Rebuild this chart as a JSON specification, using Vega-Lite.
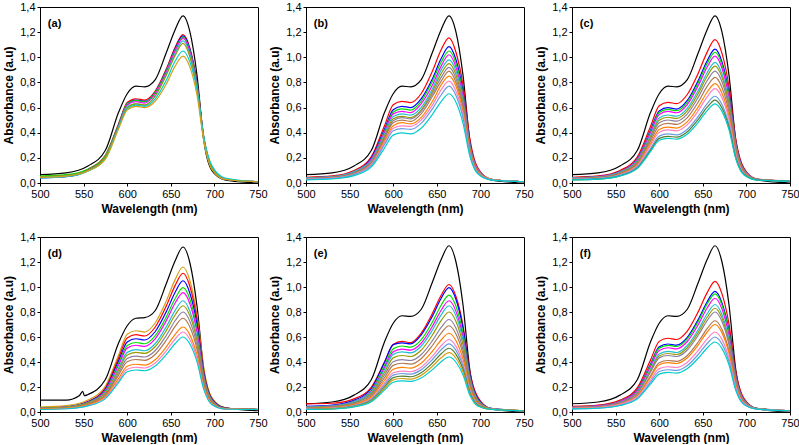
{
"$schema":"https://vega.github.io/schema/vega-lite/v6.json",
"padding":{"left":2,"top":0,"right":0,"bottom":0},
"data":{"values":[
{"p":"a","lab":"(a)"},{"p":"b","lab":"(b)"},{"p":"c","lab":"(c)"},{"p":"d","lab":"(d)"},{"p":"e","lab":"(e)"},{"p":"f","lab":"(f)"},
{"p":"a","c":0,"x":500,"y":0.066},{"p":"a","c":0,"x":530,"y":0.08},{"p":"a","c":0,"x":555,"y":0.135},{"p":"a","c":0,"x":575,"y":0.26},{"p":"a","c":0,"x":590,"y":0.56},{"p":"a","c":0,"x":600,"y":0.71},{"p":"a","c":0,"x":610,"y":0.77},{"p":"a","c":0,"x":620,"y":0.765},{"p":"a","c":0,"x":632,"y":0.82},{"p":"a","c":0,"x":645,"y":1.04},{"p":"a","c":0,"x":655,"y":1.22},{"p":"a","c":0,"x":664,"y":1.33},{"p":"a","c":0,"x":672,"y":1.2},{"p":"a","c":0,"x":680,"y":0.86},{"p":"a","c":0,"x":688,"y":0.33},{"p":"a","c":0,"x":697,"y":0.1},{"p":"a","c":0,"x":712,"y":0.025},{"p":"a","c":0,"x":750,"y":0},
{"p":"a","c":1,"x":500,"y":0.05},{"p":"a","c":1,"x":530,"y":0.06},{"p":"a","c":1,"x":555,"y":0.11},{"p":"a","c":1,"x":575,"y":0.22},{"p":"a","c":1,"x":590,"y":0.47},{"p":"a","c":1,"x":600,"y":0.64},{"p":"a","c":1,"x":610,"y":0.67},{"p":"a","c":1,"x":620,"y":0.66},{"p":"a","c":1,"x":632,"y":0.73},{"p":"a","c":1,"x":645,"y":0.91},{"p":"a","c":1,"x":655,"y":1.08},{"p":"a","c":1,"x":664,"y":1.18},{"p":"a","c":1,"x":672,"y":1.07},{"p":"a","c":1,"x":680,"y":0.8},{"p":"a","c":1,"x":688,"y":0.36},{"p":"a","c":1,"x":697,"y":0.13},{"p":"a","c":1,"x":712,"y":0.03},{"p":"a","c":1,"x":750,"y":0.01},
{"p":"a","c":2,"x":500,"y":0.04},{"p":"a","c":2,"x":530,"y":0.05},{"p":"a","c":2,"x":555,"y":0.1},{"p":"a","c":2,"x":575,"y":0.21},{"p":"a","c":2,"x":590,"y":0.46},{"p":"a","c":2,"x":600,"y":0.63},{"p":"a","c":2,"x":610,"y":0.66},{"p":"a","c":2,"x":620,"y":0.65},{"p":"a","c":2,"x":632,"y":0.72},{"p":"a","c":2,"x":645,"y":0.9},{"p":"a","c":2,"x":655,"y":1.07},{"p":"a","c":2,"x":664,"y":1.17},{"p":"a","c":2,"x":672,"y":1.06},{"p":"a","c":2,"x":680,"y":0.79},{"p":"a","c":2,"x":688,"y":0.35},{"p":"a","c":2,"x":697,"y":0.12},{"p":"a","c":2,"x":712,"y":0.03},{"p":"a","c":2,"x":750,"y":0.01},
{"p":"a","c":3,"x":500,"y":0.055},{"p":"a","c":3,"x":530,"y":0.066},{"p":"a","c":3,"x":555,"y":0.11},{"p":"a","c":3,"x":575,"y":0.22},{"p":"a","c":3,"x":590,"y":0.46},{"p":"a","c":3,"x":600,"y":0.63},{"p":"a","c":3,"x":610,"y":0.657},{"p":"a","c":3,"x":620,"y":0.646},{"p":"a","c":3,"x":632,"y":0.718},{"p":"a","c":3,"x":645,"y":0.895},{"p":"a","c":3,"x":655,"y":1.061},{"p":"a","c":3,"x":664,"y":1.16},{"p":"a","c":3,"x":672,"y":1.05},{"p":"a","c":3,"x":680,"y":0.784},{"p":"a","c":3,"x":688,"y":0.353},{"p":"a","c":3,"x":697,"y":0.127},{"p":"a","c":3,"x":712,"y":0.03},{"p":"a","c":3,"x":750,"y":0.01},
{"p":"a","c":4,"x":500,"y":0.045},{"p":"a","c":4,"x":530,"y":0.056},{"p":"a","c":4,"x":555,"y":0.1},{"p":"a","c":4,"x":575,"y":0.21},{"p":"a","c":4,"x":590,"y":0.45},{"p":"a","c":4,"x":600,"y":0.62},{"p":"a","c":4,"x":610,"y":0.647},{"p":"a","c":4,"x":620,"y":0.636},{"p":"a","c":4,"x":632,"y":0.708},{"p":"a","c":4,"x":645,"y":0.885},{"p":"a","c":4,"x":655,"y":1.051},{"p":"a","c":4,"x":664,"y":1.15},{"p":"a","c":4,"x":672,"y":1.04},{"p":"a","c":4,"x":680,"y":0.774},{"p":"a","c":4,"x":688,"y":0.343},{"p":"a","c":4,"x":697,"y":0.12},{"p":"a","c":4,"x":712,"y":0.03},{"p":"a","c":4,"x":750,"y":0.01},
{"p":"a","c":5,"x":500,"y":0.04},{"p":"a","c":5,"x":530,"y":0.05},{"p":"a","c":5,"x":555,"y":0.095},{"p":"a","c":5,"x":575,"y":0.2},{"p":"a","c":5,"x":590,"y":0.44},{"p":"a","c":5,"x":600,"y":0.61},{"p":"a","c":5,"x":610,"y":0.63},{"p":"a","c":5,"x":620,"y":0.62},{"p":"a","c":5,"x":632,"y":0.69},{"p":"a","c":5,"x":645,"y":0.87},{"p":"a","c":5,"x":655,"y":1.03},{"p":"a","c":5,"x":664,"y":1.13},{"p":"a","c":5,"x":672,"y":1.02},{"p":"a","c":5,"x":680,"y":0.76},{"p":"a","c":5,"x":688,"y":0.33},{"p":"a","c":5,"x":697,"y":0.115},{"p":"a","c":5,"x":712,"y":0.03},{"p":"a","c":5,"x":750,"y":0.01},
{"p":"a","c":6,"x":500,"y":0.05},{"p":"a","c":6,"x":530,"y":0.06},{"p":"a","c":6,"x":555,"y":0.1},{"p":"a","c":6,"x":575,"y":0.21},{"p":"a","c":6,"x":590,"y":0.44},{"p":"a","c":6,"x":600,"y":0.6},{"p":"a","c":6,"x":610,"y":0.63},{"p":"a","c":6,"x":620,"y":0.62},{"p":"a","c":6,"x":632,"y":0.69},{"p":"a","c":6,"x":645,"y":0.86},{"p":"a","c":6,"x":655,"y":1.015},{"p":"a","c":6,"x":664,"y":1.11},{"p":"a","c":6,"x":672,"y":1.0},{"p":"a","c":6,"x":680,"y":0.75},{"p":"a","c":6,"x":688,"y":0.34},{"p":"a","c":6,"x":697,"y":0.12},{"p":"a","c":6,"x":712,"y":0.03},{"p":"a","c":6,"x":750,"y":0.01},
{"p":"a","c":14,"x":500,"y":0.045},{"p":"a","c":14,"x":530,"y":0.055},{"p":"a","c":14,"x":555,"y":0.095},{"p":"a","c":14,"x":575,"y":0.195},{"p":"a","c":14,"x":590,"y":0.44},{"p":"a","c":14,"x":600,"y":0.59},{"p":"a","c":14,"x":610,"y":0.62},{"p":"a","c":14,"x":620,"y":0.61},{"p":"a","c":14,"x":632,"y":0.67},{"p":"a","c":14,"x":645,"y":0.82},{"p":"a","c":14,"x":655,"y":0.97},{"p":"a","c":14,"x":664,"y":1.05},{"p":"a","c":14,"x":672,"y":0.96},{"p":"a","c":14,"x":680,"y":0.74},{"p":"a","c":14,"x":688,"y":0.36},{"p":"a","c":14,"x":697,"y":0.14},{"p":"a","c":14,"x":712,"y":0.04},{"p":"a","c":14,"x":750,"y":0.01},
{"p":"a","c":13,"x":500,"y":0.045},{"p":"a","c":13,"x":530,"y":0.055},{"p":"a","c":13,"x":555,"y":0.095},{"p":"a","c":13,"x":575,"y":0.19},{"p":"a","c":13,"x":590,"y":0.43},{"p":"a","c":13,"x":600,"y":0.58},{"p":"a","c":13,"x":610,"y":0.61},{"p":"a","c":13,"x":620,"y":0.6},{"p":"a","c":13,"x":632,"y":0.65},{"p":"a","c":13,"x":645,"y":0.79},{"p":"a","c":13,"x":655,"y":0.93},{"p":"a","c":13,"x":664,"y":1.01},{"p":"a","c":13,"x":672,"y":0.92},{"p":"a","c":13,"x":680,"y":0.7},{"p":"a","c":13,"x":688,"y":0.33},{"p":"a","c":13,"x":697,"y":0.11},{"p":"a","c":13,"x":712,"y":0.03},{"p":"a","c":13,"x":750,"y":0.01},
{"p":"b","c":0,"x":500,"y":0.066},{"p":"b","c":0,"x":530,"y":0.08},{"p":"b","c":0,"x":555,"y":0.135},{"p":"b","c":0,"x":575,"y":0.26},{"p":"b","c":0,"x":590,"y":0.56},{"p":"b","c":0,"x":600,"y":0.71},{"p":"b","c":0,"x":610,"y":0.77},{"p":"b","c":0,"x":620,"y":0.765},{"p":"b","c":0,"x":632,"y":0.82},{"p":"b","c":0,"x":645,"y":1.04},{"p":"b","c":0,"x":655,"y":1.22},{"p":"b","c":0,"x":664,"y":1.33},{"p":"b","c":0,"x":672,"y":1.2},{"p":"b","c":0,"x":680,"y":0.86},{"p":"b","c":0,"x":688,"y":0.33},{"p":"b","c":0,"x":697,"y":0.1},{"p":"b","c":0,"x":712,"y":0.025},{"p":"b","c":0,"x":750,"y":0},
{"p":"b","c":1,"x":500,"y":0.045},{"p":"b","c":1,"x":530,"y":0.056},{"p":"b","c":1,"x":555,"y":0.1},{"p":"b","c":1,"x":575,"y":0.21},{"p":"b","c":1,"x":590,"y":0.456},{"p":"b","c":1,"x":600,"y":0.622},{"p":"b","c":1,"x":610,"y":0.65},{"p":"b","c":1,"x":620,"y":0.64},{"p":"b","c":1,"x":632,"y":0.71},{"p":"b","c":1,"x":645,"y":0.89},{"p":"b","c":1,"x":655,"y":1.06},{"p":"b","c":1,"x":664,"y":1.155},{"p":"b","c":1,"x":672,"y":1.04},{"p":"b","c":1,"x":680,"y":0.78},{"p":"b","c":1,"x":688,"y":0.35},{"p":"b","c":1,"x":697,"y":0.12},{"p":"b","c":1,"x":712,"y":0.03},{"p":"b","c":1,"x":750,"y":0.01},
{"p":"b","c":2,"x":500,"y":0.04},{"p":"b","c":2,"x":530,"y":0.05},{"p":"b","c":2,"x":555,"y":0.09},{"p":"b","c":2,"x":575,"y":0.2},{"p":"b","c":2,"x":590,"y":0.427},{"p":"b","c":2,"x":600,"y":0.583},{"p":"b","c":2,"x":610,"y":0.61},{"p":"b","c":2,"x":620,"y":0.6},{"p":"b","c":2,"x":632,"y":0.67},{"p":"b","c":2,"x":645,"y":0.83},{"p":"b","c":2,"x":655,"y":0.99},{"p":"b","c":2,"x":664,"y":1.085},{"p":"b","c":2,"x":672,"y":0.98},{"p":"b","c":2,"x":680,"y":0.73},{"p":"b","c":2,"x":688,"y":0.32},{"p":"b","c":2,"x":697,"y":0.11},{"p":"b","c":2,"x":712,"y":0.03},{"p":"b","c":2,"x":750,"y":0.01},
{"p":"b","c":3,"x":500,"y":0.04},{"p":"b","c":3,"x":530,"y":0.05},{"p":"b","c":3,"x":555,"y":0.09},{"p":"b","c":3,"x":575,"y":0.19},{"p":"b","c":3,"x":590,"y":0.414},{"p":"b","c":3,"x":600,"y":0.565},{"p":"b","c":3,"x":610,"y":0.59},{"p":"b","c":3,"x":620,"y":0.58},{"p":"b","c":3,"x":632,"y":0.65},{"p":"b","c":3,"x":645,"y":0.81},{"p":"b","c":3,"x":655,"y":0.96},{"p":"b","c":3,"x":664,"y":1.05},{"p":"b","c":3,"x":672,"y":0.95},{"p":"b","c":3,"x":680,"y":0.71},{"p":"b","c":3,"x":688,"y":0.31},{"p":"b","c":3,"x":697,"y":0.11},{"p":"b","c":3,"x":712,"y":0.03},{"p":"b","c":3,"x":750,"y":0.01},
{"p":"b","c":4,"x":500,"y":0.04},{"p":"b","c":4,"x":530,"y":0.05},{"p":"b","c":4,"x":555,"y":0.09},{"p":"b","c":4,"x":575,"y":0.19},{"p":"b","c":4,"x":590,"y":0.403},{"p":"b","c":4,"x":600,"y":0.55},{"p":"b","c":4,"x":610,"y":0.57},{"p":"b","c":4,"x":620,"y":0.56},{"p":"b","c":4,"x":632,"y":0.63},{"p":"b","c":4,"x":645,"y":0.78},{"p":"b","c":4,"x":655,"y":0.93},{"p":"b","c":4,"x":664,"y":1.02},{"p":"b","c":4,"x":672,"y":0.92},{"p":"b","c":4,"x":680,"y":0.69},{"p":"b","c":4,"x":688,"y":0.3},{"p":"b","c":4,"x":697,"y":0.11},{"p":"b","c":4,"x":712,"y":0.03},{"p":"b","c":4,"x":750,"y":0.01},
{"p":"b","c":5,"x":500,"y":0.04},{"p":"b","c":5,"x":530,"y":0.05},{"p":"b","c":5,"x":555,"y":0.09},{"p":"b","c":5,"x":575,"y":0.18},{"p":"b","c":5,"x":590,"y":0.388},{"p":"b","c":5,"x":600,"y":0.529},{"p":"b","c":5,"x":610,"y":0.55},{"p":"b","c":5,"x":620,"y":0.54},{"p":"b","c":5,"x":632,"y":0.6},{"p":"b","c":5,"x":645,"y":0.75},{"p":"b","c":5,"x":655,"y":0.9},{"p":"b","c":5,"x":664,"y":0.98},{"p":"b","c":5,"x":672,"y":0.89},{"p":"b","c":5,"x":680,"y":0.66},{"p":"b","c":5,"x":688,"y":0.29},{"p":"b","c":5,"x":697,"y":0.1},{"p":"b","c":5,"x":712,"y":0.03},{"p":"b","c":5,"x":750,"y":0.01},
{"p":"b","c":6,"x":500,"y":0.035},{"p":"b","c":6,"x":530,"y":0.045},{"p":"b","c":6,"x":555,"y":0.08},{"p":"b","c":6,"x":575,"y":0.17},{"p":"b","c":6,"x":590,"y":0.374},{"p":"b","c":6,"x":600,"y":0.511},{"p":"b","c":6,"x":610,"y":0.53},{"p":"b","c":6,"x":620,"y":0.52},{"p":"b","c":6,"x":632,"y":0.58},{"p":"b","c":6,"x":645,"y":0.73},{"p":"b","c":6,"x":655,"y":0.87},{"p":"b","c":6,"x":664,"y":0.95},{"p":"b","c":6,"x":672,"y":0.86},{"p":"b","c":6,"x":680,"y":0.64},{"p":"b","c":6,"x":688,"y":0.28},{"p":"b","c":6,"x":697,"y":0.1},{"p":"b","c":6,"x":712,"y":0.03},{"p":"b","c":6,"x":750,"y":0.01},
{"p":"b","c":7,"x":500,"y":0.035},{"p":"b","c":7,"x":530,"y":0.044},{"p":"b","c":7,"x":555,"y":0.08},{"p":"b","c":7,"x":575,"y":0.17},{"p":"b","c":7,"x":590,"y":0.362},{"p":"b","c":7,"x":600,"y":0.495},{"p":"b","c":7,"x":610,"y":0.52},{"p":"b","c":7,"x":620,"y":0.51},{"p":"b","c":7,"x":632,"y":0.57},{"p":"b","c":7,"x":645,"y":0.71},{"p":"b","c":7,"x":655,"y":0.84},{"p":"b","c":7,"x":664,"y":0.92},{"p":"b","c":7,"x":672,"y":0.83},{"p":"b","c":7,"x":680,"y":0.62},{"p":"b","c":7,"x":688,"y":0.27},{"p":"b","c":7,"x":697,"y":0.1},{"p":"b","c":7,"x":712,"y":0.03},{"p":"b","c":7,"x":750,"y":0.01},
{"p":"b","c":8,"x":500,"y":0.035},{"p":"b","c":8,"x":530,"y":0.044},{"p":"b","c":8,"x":555,"y":0.078},{"p":"b","c":8,"x":575,"y":0.16},{"p":"b","c":8,"x":590,"y":0.351},{"p":"b","c":8,"x":600,"y":0.48},{"p":"b","c":8,"x":610,"y":0.5},{"p":"b","c":8,"x":620,"y":0.49},{"p":"b","c":8,"x":632,"y":0.55},{"p":"b","c":8,"x":645,"y":0.69},{"p":"b","c":8,"x":655,"y":0.81},{"p":"b","c":8,"x":664,"y":0.89},{"p":"b","c":8,"x":672,"y":0.8},{"p":"b","c":8,"x":680,"y":0.6},{"p":"b","c":8,"x":688,"y":0.27},{"p":"b","c":8,"x":697,"y":0.09},{"p":"b","c":8,"x":712,"y":0.03},{"p":"b","c":8,"x":750,"y":0.01},
{"p":"b","c":9,"x":500,"y":0.03},{"p":"b","c":9,"x":530,"y":0.038},{"p":"b","c":9,"x":555,"y":0.071},{"p":"b","c":9,"x":575,"y":0.15},{"p":"b","c":9,"x":590,"y":0.333},{"p":"b","c":9,"x":600,"y":0.456},{"p":"b","c":9,"x":610,"y":0.48},{"p":"b","c":9,"x":620,"y":0.47},{"p":"b","c":9,"x":632,"y":0.52},{"p":"b","c":9,"x":645,"y":0.65},{"p":"b","c":9,"x":655,"y":0.78},{"p":"b","c":9,"x":664,"y":0.85},{"p":"b","c":9,"x":672,"y":0.77},{"p":"b","c":9,"x":680,"y":0.57},{"p":"b","c":9,"x":688,"y":0.25},{"p":"b","c":9,"x":697,"y":0.09},{"p":"b","c":9,"x":712,"y":0.03},{"p":"b","c":9,"x":750,"y":0.01},
{"p":"b","c":10,"x":500,"y":0.03},{"p":"b","c":10,"x":530,"y":0.038},{"p":"b","c":10,"x":555,"y":0.069},{"p":"b","c":10,"x":575,"y":0.147},{"p":"b","c":10,"x":590,"y":0.319},{"p":"b","c":10,"x":600,"y":0.436},{"p":"b","c":10,"x":610,"y":0.455},{"p":"b","c":10,"x":620,"y":0.45},{"p":"b","c":10,"x":632,"y":0.5},{"p":"b","c":10,"x":645,"y":0.62},{"p":"b","c":10,"x":655,"y":0.74},{"p":"b","c":10,"x":664,"y":0.81},{"p":"b","c":10,"x":672,"y":0.73},{"p":"b","c":10,"x":680,"y":0.545},{"p":"b","c":10,"x":688,"y":0.24},{"p":"b","c":10,"x":697,"y":0.08},{"p":"b","c":10,"x":712,"y":0.027},{"p":"b","c":10,"x":750,"y":0.01},
{"p":"b","c":11,"x":500,"y":0.03},{"p":"b","c":11,"x":530,"y":0.037},{"p":"b","c":11,"x":555,"y":0.067},{"p":"b","c":11,"x":575,"y":0.14},{"p":"b","c":11,"x":590,"y":0.304},{"p":"b","c":11,"x":600,"y":0.415},{"p":"b","c":11,"x":610,"y":0.433},{"p":"b","c":11,"x":620,"y":0.426},{"p":"b","c":11,"x":632,"y":0.474},{"p":"b","c":11,"x":645,"y":0.59},{"p":"b","c":11,"x":655,"y":0.7},{"p":"b","c":11,"x":664,"y":0.77},{"p":"b","c":11,"x":672,"y":0.696},{"p":"b","c":11,"x":680,"y":0.52},{"p":"b","c":11,"x":688,"y":0.23},{"p":"b","c":11,"x":697,"y":0.08},{"p":"b","c":11,"x":712,"y":0.026},{"p":"b","c":11,"x":750,"y":0.01},
{"p":"b","c":14,"x":500,"y":0.025},{"p":"b","c":14,"x":530,"y":0.032},{"p":"b","c":14,"x":555,"y":0.059},{"p":"b","c":14,"x":575,"y":0.128},{"p":"b","c":14,"x":590,"y":0.278},{"p":"b","c":14,"x":600,"y":0.381},{"p":"b","c":14,"x":610,"y":0.398},{"p":"b","c":14,"x":620,"y":0.391},{"p":"b","c":14,"x":632,"y":0.436},{"p":"b","c":14,"x":645,"y":0.546},{"p":"b","c":14,"x":655,"y":0.648},{"p":"b","c":14,"x":664,"y":0.71},{"p":"b","c":14,"x":672,"y":0.642},{"p":"b","c":14,"x":680,"y":0.477},{"p":"b","c":14,"x":688,"y":0.21},{"p":"b","c":14,"x":697,"y":0.073},{"p":"b","c":14,"x":712,"y":0.025},{"p":"b","c":14,"x":750,"y":0.01},
{"p":"c","c":0,"x":500,"y":0.066},{"p":"c","c":0,"x":530,"y":0.08},{"p":"c","c":0,"x":555,"y":0.135},{"p":"c","c":0,"x":575,"y":0.26},{"p":"c","c":0,"x":590,"y":0.56},{"p":"c","c":0,"x":600,"y":0.71},{"p":"c","c":0,"x":610,"y":0.77},{"p":"c","c":0,"x":620,"y":0.765},{"p":"c","c":0,"x":632,"y":0.82},{"p":"c","c":0,"x":645,"y":1.04},{"p":"c","c":0,"x":655,"y":1.22},{"p":"c","c":0,"x":664,"y":1.33},{"p":"c","c":0,"x":672,"y":1.2},{"p":"c","c":0,"x":680,"y":0.86},{"p":"c","c":0,"x":688,"y":0.33},{"p":"c","c":0,"x":697,"y":0.1},{"p":"c","c":0,"x":712,"y":0.025},{"p":"c","c":0,"x":750,"y":0},
{"p":"c","c":1,"x":500,"y":0.045},{"p":"c","c":1,"x":530,"y":0.056},{"p":"c","c":1,"x":555,"y":0.1},{"p":"c","c":1,"x":575,"y":0.209},{"p":"c","c":1,"x":590,"y":0.45},{"p":"c","c":1,"x":600,"y":0.614},{"p":"c","c":1,"x":610,"y":0.642},{"p":"c","c":1,"x":620,"y":0.631},{"p":"c","c":1,"x":632,"y":0.702},{"p":"c","c":1,"x":645,"y":0.877},{"p":"c","c":1,"x":655,"y":1.041},{"p":"c","c":1,"x":664,"y":1.14},{"p":"c","c":1,"x":672,"y":1.031},{"p":"c","c":1,"x":680,"y":0.768},{"p":"c","c":1,"x":688,"y":0.341},{"p":"c","c":1,"x":697,"y":0.12},{"p":"c","c":1,"x":712,"y":0.031},{"p":"c","c":1,"x":750,"y":0.015},
{"p":"c","c":2,"x":500,"y":0.04},{"p":"c","c":2,"x":530,"y":0.05},{"p":"c","c":2,"x":555,"y":0.091},{"p":"c","c":2,"x":575,"y":0.194},{"p":"c","c":2,"x":590,"y":0.419},{"p":"c","c":2,"x":600,"y":0.573},{"p":"c","c":2,"x":610,"y":0.599},{"p":"c","c":2,"x":620,"y":0.588},{"p":"c","c":2,"x":632,"y":0.655},{"p":"c","c":2,"x":645,"y":0.819},{"p":"c","c":2,"x":655,"y":0.973},{"p":"c","c":2,"x":664,"y":1.065},{"p":"c","c":2,"x":672,"y":0.963},{"p":"c","c":2,"x":680,"y":0.717},{"p":"c","c":2,"x":688,"y":0.317},{"p":"c","c":2,"x":697,"y":0.11},{"p":"c","c":2,"x":712,"y":0.03},{"p":"c","c":2,"x":750,"y":0.015},
{"p":"c","c":3,"x":500,"y":0.04},{"p":"c","c":3,"x":530,"y":0.05},{"p":"c","c":3,"x":555,"y":0.09},{"p":"c","c":3,"x":575,"y":0.19},{"p":"c","c":3,"x":590,"y":0.41},{"p":"c","c":3,"x":600,"y":0.56},{"p":"c","c":3,"x":610,"y":0.585},{"p":"c","c":3,"x":620,"y":0.575},{"p":"c","c":3,"x":632,"y":0.64},{"p":"c","c":3,"x":645,"y":0.8},{"p":"c","c":3,"x":655,"y":0.95},{"p":"c","c":3,"x":664,"y":1.04},{"p":"c","c":3,"x":672,"y":0.94},{"p":"c","c":3,"x":680,"y":0.7},{"p":"c","c":3,"x":688,"y":0.31},{"p":"c","c":3,"x":697,"y":0.108},{"p":"c","c":3,"x":712,"y":0.03},{"p":"c","c":3,"x":750,"y":0.015},
{"p":"c","c":4,"x":500,"y":0.04},{"p":"c","c":4,"x":530,"y":0.05},{"p":"c","c":4,"x":555,"y":0.089},{"p":"c","c":4,"x":575,"y":0.186},{"p":"c","c":4,"x":590,"y":0.399},{"p":"c","c":4,"x":600,"y":0.544},{"p":"c","c":4,"x":610,"y":0.569},{"p":"c","c":4,"x":620,"y":0.559},{"p":"c","c":4,"x":632,"y":0.622},{"p":"c","c":4,"x":645,"y":0.777},{"p":"c","c":4,"x":655,"y":0.923},{"p":"c","c":4,"x":664,"y":1.01},{"p":"c","c":4,"x":672,"y":0.913},{"p":"c","c":4,"x":680,"y":0.68},{"p":"c","c":4,"x":688,"y":0.302},{"p":"c","c":4,"x":697,"y":0.106},{"p":"c","c":4,"x":712,"y":0.03},{"p":"c","c":4,"x":750,"y":0.015},
{"p":"c","c":5,"x":500,"y":0.04},{"p":"c","c":5,"x":530,"y":0.049},{"p":"c","c":5,"x":555,"y":0.086},{"p":"c","c":5,"x":575,"y":0.178},{"p":"c","c":5,"x":590,"y":0.38},{"p":"c","c":5,"x":600,"y":0.518},{"p":"c","c":5,"x":610,"y":0.541},{"p":"c","c":5,"x":620,"y":0.532},{"p":"c","c":5,"x":632,"y":0.592},{"p":"c","c":5,"x":645,"y":0.739},{"p":"c","c":5,"x":655,"y":0.877},{"p":"c","c":5,"x":664,"y":0.96},{"p":"c","c":5,"x":672,"y":0.868},{"p":"c","c":5,"x":680,"y":0.647},{"p":"c","c":5,"x":688,"y":0.288},{"p":"c","c":5,"x":697,"y":0.1},{"p":"c","c":5,"x":712,"y":0.029},{"p":"c","c":5,"x":750,"y":0.015},
{"p":"c","c":6,"x":500,"y":0.035},{"p":"c","c":6,"x":530,"y":0.044},{"p":"c","c":6,"x":555,"y":0.08},{"p":"c","c":6,"x":575,"y":0.169},{"p":"c","c":6,"x":590,"y":0.366},{"p":"c","c":6,"x":600,"y":0.5},{"p":"c","c":6,"x":610,"y":0.523},{"p":"c","c":6,"x":620,"y":0.514},{"p":"c","c":6,"x":632,"y":0.572},{"p":"c","c":6,"x":645,"y":0.715},{"p":"c","c":6,"x":655,"y":0.849},{"p":"c","c":6,"x":664,"y":0.93},{"p":"c","c":6,"x":672,"y":0.841},{"p":"c","c":6,"x":680,"y":0.626},{"p":"c","c":6,"x":688,"y":0.277},{"p":"c","c":6,"x":697,"y":0.097},{"p":"c","c":6,"x":712,"y":0.028},{"p":"c","c":6,"x":750,"y":0.015},
{"p":"c","c":7,"x":500,"y":0.035},{"p":"c","c":7,"x":530,"y":0.044},{"p":"c","c":7,"x":555,"y":0.078},{"p":"c","c":7,"x":575,"y":0.163},{"p":"c","c":7,"x":590,"y":0.351},{"p":"c","c":7,"x":600,"y":0.48},{"p":"c","c":7,"x":610,"y":0.501},{"p":"c","c":7,"x":620,"y":0.492},{"p":"c","c":7,"x":632,"y":0.548},{"p":"c","c":7,"x":645,"y":0.685},{"p":"c","c":7,"x":655,"y":0.813},{"p":"c","c":7,"x":664,"y":0.89},{"p":"c","c":7,"x":672,"y":0.805},{"p":"c","c":7,"x":680,"y":0.599},{"p":"c","c":7,"x":688,"y":0.266},{"p":"c","c":7,"x":697,"y":0.093},{"p":"c","c":7,"x":712,"y":0.028},{"p":"c","c":7,"x":750,"y":0.015},
{"p":"c","c":8,"x":500,"y":0.035},{"p":"c","c":8,"x":530,"y":0.043},{"p":"c","c":8,"x":555,"y":0.075},{"p":"c","c":8,"x":575,"y":0.156},{"p":"c","c":8,"x":590,"y":0.333},{"p":"c","c":8,"x":600,"y":0.454},{"p":"c","c":8,"x":610,"y":0.474},{"p":"c","c":8,"x":620,"y":0.466},{"p":"c","c":8,"x":632,"y":0.518},{"p":"c","c":8,"x":645,"y":0.647},{"p":"c","c":8,"x":655,"y":0.768},{"p":"c","c":8,"x":664,"y":0.84},{"p":"c","c":8,"x":672,"y":0.76},{"p":"c","c":8,"x":680,"y":0.566},{"p":"c","c":8,"x":688,"y":0.252},{"p":"c","c":8,"x":697,"y":0.089},{"p":"c","c":8,"x":712,"y":0.027},{"p":"c","c":8,"x":750,"y":0.015},
{"p":"c","c":9,"x":500,"y":0.03},{"p":"c","c":9,"x":530,"y":0.038},{"p":"c","c":9,"x":555,"y":0.068},{"p":"c","c":9,"x":575,"y":0.144},{"p":"c","c":9,"x":590,"y":0.311},{"p":"c","c":9,"x":600,"y":0.425},{"p":"c","c":9,"x":610,"y":0.444},{"p":"c","c":9,"x":620,"y":0.437},{"p":"c","c":9,"x":632,"y":0.486},{"p":"c","c":9,"x":645,"y":0.608},{"p":"c","c":9,"x":655,"y":0.722},{"p":"c","c":9,"x":664,"y":0.79},{"p":"c","c":9,"x":672,"y":0.714},{"p":"c","c":9,"x":680,"y":0.532},{"p":"c","c":9,"x":688,"y":0.235},{"p":"c","c":9,"x":697,"y":0.082},{"p":"c","c":9,"x":712,"y":0.026},{"p":"c","c":9,"x":750,"y":0.015},
{"p":"c","c":10,"x":500,"y":0.03},{"p":"c","c":10,"x":530,"y":0.037},{"p":"c","c":10,"x":555,"y":0.066},{"p":"c","c":10,"x":575,"y":0.138},{"p":"c","c":10,"x":590,"y":0.296},{"p":"c","c":10,"x":600,"y":0.404},{"p":"c","c":10,"x":610,"y":0.422},{"p":"c","c":10,"x":620,"y":0.415},{"p":"c","c":10,"x":632,"y":0.462},{"p":"c","c":10,"x":645,"y":0.577},{"p":"c","c":10,"x":655,"y":0.685},{"p":"c","c":10,"x":664,"y":0.75},{"p":"c","c":10,"x":672,"y":0.678},{"p":"c","c":10,"x":680,"y":0.505},{"p":"c","c":10,"x":688,"y":0.224},{"p":"c","c":10,"x":697,"y":0.079},{"p":"c","c":10,"x":712,"y":0.026},{"p":"c","c":10,"x":750,"y":0.015},
{"p":"c","c":11,"x":500,"y":0.03},{"p":"c","c":11,"x":530,"y":0.037},{"p":"c","c":11,"x":555,"y":0.063},{"p":"c","c":11,"x":575,"y":0.129},{"p":"c","c":11,"x":590,"y":0.274},{"p":"c","c":11,"x":600,"y":0.373},{"p":"c","c":11,"x":610,"y":0.39},{"p":"c","c":11,"x":620,"y":0.383},{"p":"c","c":11,"x":632,"y":0.426},{"p":"c","c":11,"x":645,"y":0.532},{"p":"c","c":11,"x":655,"y":0.631},{"p":"c","c":11,"x":664,"y":0.69},{"p":"c","c":11,"x":672,"y":0.624},{"p":"c","c":11,"x":680,"y":0.466},{"p":"c","c":11,"x":688,"y":0.208},{"p":"c","c":11,"x":697,"y":0.074},{"p":"c","c":11,"x":712,"y":0.025},{"p":"c","c":11,"x":750,"y":0.015},
{"p":"c","c":12,"x":500,"y":0.025},{"p":"c","c":12,"x":530,"y":0.031},{"p":"c","c":12,"x":555,"y":0.057},{"p":"c","c":12,"x":575,"y":0.12},{"p":"c","c":12,"x":590,"y":0.26},{"p":"c","c":12,"x":600,"y":0.355},{"p":"c","c":12,"x":610,"y":0.371},{"p":"c","c":12,"x":620,"y":0.365},{"p":"c","c":12,"x":632,"y":0.406},{"p":"c","c":12,"x":645,"y":0.508},{"p":"c","c":12,"x":655,"y":0.603},{"p":"c","c":12,"x":664,"y":0.66},{"p":"c","c":12,"x":672,"y":0.597},{"p":"c","c":12,"x":680,"y":0.444},{"p":"c","c":12,"x":688,"y":0.196},{"p":"c","c":12,"x":697,"y":0.069},{"p":"c","c":12,"x":712,"y":0.025},{"p":"c","c":12,"x":750,"y":0.015},
{"p":"c","c":14,"x":500,"y":0.025},{"p":"c","c":14,"x":530,"y":0.031},{"p":"c","c":14,"x":555,"y":0.055},{"p":"c","c":14,"x":575,"y":0.116},{"p":"c","c":14,"x":590,"y":0.249},{"p":"c","c":14,"x":600,"y":0.34},{"p":"c","c":14,"x":610,"y":0.355},{"p":"c","c":14,"x":620,"y":0.349},{"p":"c","c":14,"x":632,"y":0.388},{"p":"c","c":14,"x":645,"y":0.485},{"p":"c","c":14,"x":655,"y":0.576},{"p":"c","c":14,"x":664,"y":0.63},{"p":"c","c":14,"x":672,"y":0.57},{"p":"c","c":14,"x":680,"y":0.424},{"p":"c","c":14,"x":688,"y":0.188},{"p":"c","c":14,"x":697,"y":0.066},{"p":"c","c":14,"x":712,"y":0.024},{"p":"c","c":14,"x":750,"y":0.015},
{"p":"d","c":0,"x":500,"y":0.095},{"p":"d","c":0,"x":530,"y":0.095},{"p":"d","c":0,"x":545,"y":0.13},{"p":"d","c":0,"x":549,"y":0.165},{"p":"d","c":0,"x":551,"y":0.13},{"p":"d","c":0,"x":555,"y":0.14},{"p":"d","c":0,"x":575,"y":0.26},{"p":"d","c":0,"x":590,"y":0.55},{"p":"d","c":0,"x":600,"y":0.69},{"p":"d","c":0,"x":610,"y":0.75},{"p":"d","c":0,"x":620,"y":0.755},{"p":"d","c":0,"x":632,"y":0.81},{"p":"d","c":0,"x":645,"y":1.03},{"p":"d","c":0,"x":655,"y":1.21},{"p":"d","c":0,"x":664,"y":1.32},{"p":"d","c":0,"x":672,"y":1.19},{"p":"d","c":0,"x":680,"y":0.85},{"p":"d","c":0,"x":688,"y":0.33},{"p":"d","c":0,"x":697,"y":0.11},{"p":"d","c":0,"x":712,"y":0.035},{"p":"d","c":0,"x":750,"y":0.01},
{"p":"d","c":13,"x":500,"y":0.04},{"p":"d","c":13,"x":530,"y":0.051},{"p":"d","c":13,"x":555,"y":0.096},{"p":"d","c":13,"x":575,"y":0.208},{"p":"d","c":13,"x":590,"y":0.454},{"p":"d","c":13,"x":600,"y":0.622},{"p":"d","c":13,"x":610,"y":0.65},{"p":"d","c":13,"x":620,"y":0.639},{"p":"d","c":13,"x":632,"y":0.712},{"p":"d","c":13,"x":645,"y":0.891},{"p":"d","c":13,"x":655,"y":1.059},{"p":"d","c":13,"x":664,"y":1.16},{"p":"d","c":13,"x":672,"y":1.048},{"p":"d","c":13,"x":680,"y":0.779},{"p":"d","c":13,"x":688,"y":0.342},{"p":"d","c":13,"x":697,"y":0.118},{"p":"d","c":13,"x":712,"y":0.032},{"p":"d","c":13,"x":750,"y":0.02},
{"p":"d","c":1,"x":500,"y":0.03},{"p":"d","c":1,"x":530,"y":0.041},{"p":"d","c":1,"x":555,"y":0.084},{"p":"d","c":1,"x":575,"y":0.192},{"p":"d","c":1,"x":590,"y":0.43},{"p":"d","c":1,"x":600,"y":0.592},{"p":"d","c":1,"x":610,"y":0.619},{"p":"d","c":1,"x":620,"y":0.608},{"p":"d","c":1,"x":632,"y":0.678},{"p":"d","c":1,"x":645,"y":0.851},{"p":"d","c":1,"x":655,"y":1.013},{"p":"d","c":1,"x":664,"y":1.11},{"p":"d","c":1,"x":672,"y":1.002},{"p":"d","c":1,"x":680,"y":0.743},{"p":"d","c":1,"x":688,"y":0.322},{"p":"d","c":1,"x":697,"y":0.107},{"p":"d","c":1,"x":712,"y":0.031},{"p":"d","c":1,"x":750,"y":0.02},
{"p":"d","c":2,"x":500,"y":0.03},{"p":"d","c":2,"x":530,"y":0.04},{"p":"d","c":2,"x":555,"y":0.081},{"p":"d","c":2,"x":575,"y":0.183},{"p":"d","c":2,"x":590,"y":0.407},{"p":"d","c":2,"x":600,"y":0.56},{"p":"d","c":2,"x":610,"y":0.586},{"p":"d","c":2,"x":620,"y":0.576},{"p":"d","c":2,"x":632,"y":0.642},{"p":"d","c":2,"x":645,"y":0.805},{"p":"d","c":2,"x":655,"y":0.958},{"p":"d","c":2,"x":664,"y":1.05},{"p":"d","c":2,"x":672,"y":0.948},{"p":"d","c":2,"x":680,"y":0.703},{"p":"d","c":2,"x":688,"y":0.305},{"p":"d","c":2,"x":697,"y":0.103},{"p":"d","c":2,"x":712,"y":0.03},{"p":"d","c":2,"x":750,"y":0.02},
{"p":"d","c":3,"x":500,"y":0.03},{"p":"d","c":3,"x":530,"y":0.04},{"p":"d","c":3,"x":555,"y":0.078},{"p":"d","c":3,"x":575,"y":0.175},{"p":"d","c":3,"x":590,"y":0.387},{"p":"d","c":3,"x":600,"y":0.532},{"p":"d","c":3,"x":610,"y":0.556},{"p":"d","c":3,"x":620,"y":0.546},{"p":"d","c":3,"x":632,"y":0.609},{"p":"d","c":3,"x":645,"y":0.763},{"p":"d","c":3,"x":655,"y":0.908},{"p":"d","c":3,"x":664,"y":0.995},{"p":"d","c":3,"x":672,"y":0.899},{"p":"d","c":3,"x":680,"y":0.667},{"p":"d","c":3,"x":688,"y":0.291},{"p":"d","c":3,"x":697,"y":0.098},{"p":"d","c":3,"x":712,"y":0.029},{"p":"d","c":3,"x":750,"y":0.02},
{"p":"d","c":4,"x":500,"y":0.03},{"p":"d","c":4,"x":530,"y":0.039},{"p":"d","c":4,"x":555,"y":0.076},{"p":"d","c":4,"x":575,"y":0.169},{"p":"d","c":4,"x":590,"y":0.372},{"p":"d","c":4,"x":600,"y":0.511},{"p":"d","c":4,"x":610,"y":0.534},{"p":"d","c":4,"x":620,"y":0.525},{"p":"d","c":4,"x":632,"y":0.585},{"p":"d","c":4,"x":645,"y":0.733},{"p":"d","c":4,"x":655,"y":0.872},{"p":"d","c":4,"x":664,"y":0.955},{"p":"d","c":4,"x":672,"y":0.863},{"p":"d","c":4,"x":680,"y":0.641},{"p":"d","c":4,"x":688,"y":0.28},{"p":"d","c":4,"x":697,"y":0.095},{"p":"d","c":4,"x":712,"y":0.029},{"p":"d","c":4,"x":750,"y":0.02},
{"p":"d","c":5,"x":500,"y":0.03},{"p":"d","c":5,"x":530,"y":0.039},{"p":"d","c":5,"x":555,"y":0.073},{"p":"d","c":5,"x":575,"y":0.159},{"p":"d","c":5,"x":590,"y":0.348},{"p":"d","c":5,"x":600,"y":0.477},{"p":"d","c":5,"x":610,"y":0.499},{"p":"d","c":5,"x":620,"y":0.49},{"p":"d","c":5,"x":632,"y":0.546},{"p":"d","c":5,"x":645,"y":0.684},{"p":"d","c":5,"x":655,"y":0.813},{"p":"d","c":5,"x":664,"y":0.89},{"p":"d","c":5,"x":672,"y":0.804},{"p":"d","c":5,"x":680,"y":0.598},{"p":"d","c":5,"x":688,"y":0.262},{"p":"d","c":5,"x":697,"y":0.09},{"p":"d","c":5,"x":712,"y":0.028},{"p":"d","c":5,"x":750,"y":0.02},
{"p":"d","c":6,"x":500,"y":0.03},{"p":"d","c":6,"x":530,"y":0.038},{"p":"d","c":6,"x":555,"y":0.071},{"p":"d","c":6,"x":575,"y":0.153},{"p":"d","c":6,"x":590,"y":0.333},{"p":"d","c":6,"x":600,"y":0.456},{"p":"d","c":6,"x":610,"y":0.477},{"p":"d","c":6,"x":620,"y":0.469},{"p":"d","c":6,"x":632,"y":0.522},{"p":"d","c":6,"x":645,"y":0.653},{"p":"d","c":6,"x":655,"y":0.776},{"p":"d","c":6,"x":664,"y":0.85},{"p":"d","c":6,"x":672,"y":0.768},{"p":"d","c":6,"x":680,"y":0.571},{"p":"d","c":6,"x":688,"y":0.251},{"p":"d","c":6,"x":697,"y":0.087},{"p":"d","c":6,"x":712,"y":0.027},{"p":"d","c":6,"x":750,"y":0.02},
{"p":"d","c":7,"x":500,"y":0.025},{"p":"d","c":7,"x":530,"y":0.033},{"p":"d","c":7,"x":555,"y":0.064},{"p":"d","c":7,"x":575,"y":0.141},{"p":"d","c":7,"x":590,"y":0.312},{"p":"d","c":7,"x":600,"y":0.428},{"p":"d","c":7,"x":610,"y":0.447},{"p":"d","c":7,"x":620,"y":0.44},{"p":"d","c":7,"x":632,"y":0.49},{"p":"d","c":7,"x":645,"y":0.614},{"p":"d","c":7,"x":655,"y":0.73},{"p":"d","c":7,"x":664,"y":0.8},{"p":"d","c":7,"x":672,"y":0.723},{"p":"d","c":7,"x":680,"y":0.537},{"p":"d","c":7,"x":688,"y":0.234},{"p":"d","c":7,"x":697,"y":0.08},{"p":"d","c":7,"x":712,"y":0.027},{"p":"d","c":7,"x":750,"y":0.02},
{"p":"d","c":8,"x":500,"y":0.025},{"p":"d","c":8,"x":530,"y":0.032},{"p":"d","c":8,"x":555,"y":0.061},{"p":"d","c":8,"x":575,"y":0.134},{"p":"d","c":8,"x":590,"y":0.293},{"p":"d","c":8,"x":600,"y":0.402},{"p":"d","c":8,"x":610,"y":0.42},{"p":"d","c":8,"x":620,"y":0.413},{"p":"d","c":8,"x":632,"y":0.46},{"p":"d","c":8,"x":645,"y":0.576},{"p":"d","c":8,"x":655,"y":0.685},{"p":"d","c":8,"x":664,"y":0.75},{"p":"d","c":8,"x":672,"y":0.678},{"p":"d","c":8,"x":680,"y":0.504},{"p":"d","c":8,"x":688,"y":0.221},{"p":"d","c":8,"x":697,"y":0.076},{"p":"d","c":8,"x":712,"y":0.026},{"p":"d","c":8,"x":750,"y":0.02},
{"p":"d","c":9,"x":500,"y":0.025},{"p":"d","c":9,"x":530,"y":0.032},{"p":"d","c":9,"x":555,"y":0.058},{"p":"d","c":9,"x":575,"y":0.123},{"p":"d","c":9,"x":590,"y":0.267},{"p":"d","c":9,"x":600,"y":0.366},{"p":"d","c":9,"x":610,"y":0.382},{"p":"d","c":9,"x":620,"y":0.375},{"p":"d","c":9,"x":632,"y":0.418},{"p":"d","c":9,"x":645,"y":0.523},{"p":"d","c":9,"x":655,"y":0.621},{"p":"d","c":9,"x":664,"y":0.68},{"p":"d","c":9,"x":672,"y":0.615},{"p":"d","c":9,"x":680,"y":0.457},{"p":"d","c":9,"x":688,"y":0.202},{"p":"d","c":9,"x":697,"y":0.07},{"p":"d","c":9,"x":712,"y":0.025},{"p":"d","c":9,"x":750,"y":0.02},
{"p":"d","c":10,"x":500,"y":0.02},{"p":"d","c":10,"x":530,"y":0.026},{"p":"d","c":10,"x":555,"y":0.051},{"p":"d","c":10,"x":575,"y":0.113},{"p":"d","c":10,"x":590,"y":0.249},{"p":"d","c":10,"x":600,"y":0.342},{"p":"d","c":10,"x":610,"y":0.358},{"p":"d","c":10,"x":620,"y":0.352},{"p":"d","c":10,"x":632,"y":0.392},{"p":"d","c":10,"x":645,"y":0.491},{"p":"d","c":10,"x":655,"y":0.584},{"p":"d","c":10,"x":664,"y":0.64},{"p":"d","c":10,"x":672,"y":0.578},{"p":"d","c":10,"x":680,"y":0.429},{"p":"d","c":10,"x":688,"y":0.187},{"p":"d","c":10,"x":697,"y":0.064},{"p":"d","c":10,"x":712,"y":0.024},{"p":"d","c":10,"x":750,"y":0.02},
{"p":"d","c":14,"x":500,"y":0.02},{"p":"d","c":14,"x":530,"y":0.026},{"p":"d","c":14,"x":555,"y":0.049},{"p":"d","c":14,"x":575,"y":0.107},{"p":"d","c":14,"x":590,"y":0.235},{"p":"d","c":14,"x":600,"y":0.322},{"p":"d","c":14,"x":610,"y":0.336},{"p":"d","c":14,"x":620,"y":0.33},{"p":"d","c":14,"x":632,"y":0.368},{"p":"d","c":14,"x":645,"y":0.461},{"p":"d","c":14,"x":655,"y":0.548},{"p":"d","c":14,"x":664,"y":0.6},{"p":"d","c":14,"x":672,"y":0.542},{"p":"d","c":14,"x":680,"y":0.403},{"p":"d","c":14,"x":688,"y":0.177},{"p":"d","c":14,"x":697,"y":0.06},{"p":"d","c":14,"x":712,"y":0.024},{"p":"d","c":14,"x":750,"y":0.02},
{"p":"e","c":0,"x":500,"y":0.066},{"p":"e","c":0,"x":530,"y":0.08},{"p":"e","c":0,"x":555,"y":0.135},{"p":"e","c":0,"x":575,"y":0.26},{"p":"e","c":0,"x":590,"y":0.56},{"p":"e","c":0,"x":600,"y":0.71},{"p":"e","c":0,"x":610,"y":0.77},{"p":"e","c":0,"x":620,"y":0.765},{"p":"e","c":0,"x":632,"y":0.82},{"p":"e","c":0,"x":645,"y":1.04},{"p":"e","c":0,"x":655,"y":1.22},{"p":"e","c":0,"x":664,"y":1.33},{"p":"e","c":0,"x":672,"y":1.2},{"p":"e","c":0,"x":680,"y":0.86},{"p":"e","c":0,"x":688,"y":0.33},{"p":"e","c":0,"x":697,"y":0.1},{"p":"e","c":0,"x":712,"y":0.025},{"p":"e","c":0,"x":750,"y":0},
{"p":"e","c":1,"x":500,"y":0.065},{"p":"e","c":1,"x":530,"y":0.07},{"p":"e","c":1,"x":555,"y":0.105},{"p":"e","c":1,"x":575,"y":0.2},{"p":"e","c":1,"x":590,"y":0.4},{"p":"e","c":1,"x":600,"y":0.54},{"p":"e","c":1,"x":610,"y":0.565},{"p":"e","c":1,"x":620,"y":0.555},{"p":"e","c":1,"x":632,"y":0.63},{"p":"e","c":1,"x":645,"y":0.79},{"p":"e","c":1,"x":655,"y":0.934},{"p":"e","c":1,"x":664,"y":1.02},{"p":"e","c":1,"x":672,"y":0.924},{"p":"e","c":1,"x":680,"y":0.694},{"p":"e","c":1,"x":688,"y":0.319},{"p":"e","c":1,"x":697,"y":0.119},{"p":"e","c":1,"x":712,"y":0.029},{"p":"e","c":1,"x":750,"y":0.01},
{"p":"e","c":2,"x":500,"y":0.045},{"p":"e","c":2,"x":530,"y":0.055},{"p":"e","c":2,"x":555,"y":0.093},{"p":"e","c":2,"x":575,"y":0.188},{"p":"e","c":2,"x":590,"y":0.397},{"p":"e","c":2,"x":600,"y":0.539},{"p":"e","c":2,"x":610,"y":0.553},{"p":"e","c":2,"x":620,"y":0.545},{"p":"e","c":2,"x":632,"y":0.615},{"p":"e","c":2,"x":645,"y":0.767},{"p":"e","c":2,"x":655,"y":0.91},{"p":"e","c":2,"x":664,"y":0.995},{"p":"e","c":2,"x":672,"y":0.9},{"p":"e","c":2,"x":680,"y":0.672},{"p":"e","c":2,"x":688,"y":0.302},{"p":"e","c":2,"x":697,"y":0.108},{"p":"e","c":2,"x":712,"y":0.029},{"p":"e","c":2,"x":750,"y":0.01},
{"p":"e","c":3,"x":500,"y":0.04},{"p":"e","c":3,"x":530,"y":0.049},{"p":"e","c":3,"x":555,"y":0.085},{"p":"e","c":3,"x":575,"y":0.174},{"p":"e","c":3,"x":590,"y":0.371},{"p":"e","c":3,"x":600,"y":0.505},{"p":"e","c":3,"x":610,"y":0.528},{"p":"e","c":3,"x":620,"y":0.519},{"p":"e","c":3,"x":632,"y":0.577},{"p":"e","c":3,"x":645,"y":0.72},{"p":"e","c":3,"x":655,"y":0.854},{"p":"e","c":3,"x":664,"y":0.935},{"p":"e","c":3,"x":672,"y":0.846},{"p":"e","c":3,"x":680,"y":0.631},{"p":"e","c":3,"x":688,"y":0.282},{"p":"e","c":3,"x":697,"y":0.1},{"p":"e","c":3,"x":712,"y":0.028},{"p":"e","c":3,"x":750,"y":0.01},
{"p":"e","c":4,"x":500,"y":0.04},{"p":"e","c":4,"x":530,"y":0.049},{"p":"e","c":4,"x":555,"y":0.083},{"p":"e","c":4,"x":575,"y":0.168},{"p":"e","c":4,"x":590,"y":0.355},{"p":"e","c":4,"x":600,"y":0.482},{"p":"e","c":4,"x":610,"y":0.503},{"p":"e","c":4,"x":620,"y":0.495},{"p":"e","c":4,"x":632,"y":0.55},{"p":"e","c":4,"x":645,"y":0.686},{"p":"e","c":4,"x":655,"y":0.814},{"p":"e","c":4,"x":664,"y":0.89},{"p":"e","c":4,"x":672,"y":0.805},{"p":"e","c":4,"x":680,"y":0.601},{"p":"e","c":4,"x":688,"y":0.27},{"p":"e","c":4,"x":697,"y":0.096},{"p":"e","c":4,"x":712,"y":0.028},{"p":"e","c":4,"x":750,"y":0.01},
{"p":"e","c":5,"x":500,"y":0.04},{"p":"e","c":5,"x":530,"y":0.048},{"p":"e","c":5,"x":555,"y":0.081},{"p":"e","c":5,"x":575,"y":0.162},{"p":"e","c":5,"x":590,"y":0.34},{"p":"e","c":5,"x":600,"y":0.461},{"p":"e","c":5,"x":610,"y":0.481},{"p":"e","c":5,"x":620,"y":0.473},{"p":"e","c":5,"x":632,"y":0.526},{"p":"e","c":5,"x":645,"y":0.656},{"p":"e","c":5,"x":655,"y":0.777},{"p":"e","c":5,"x":664,"y":0.85},{"p":"e","c":5,"x":672,"y":0.769},{"p":"e","c":5,"x":680,"y":0.575},{"p":"e","c":5,"x":688,"y":0.259},{"p":"e","c":5,"x":697,"y":0.093},{"p":"e","c":5,"x":712,"y":0.027},{"p":"e","c":5,"x":750,"y":0.01},
{"p":"e","c":6,"x":500,"y":0.035},{"p":"e","c":6,"x":530,"y":0.043},{"p":"e","c":6,"x":555,"y":0.073},{"p":"e","c":6,"x":575,"y":0.15},{"p":"e","c":6,"x":590,"y":0.318},{"p":"e","c":6,"x":600,"y":0.433},{"p":"e","c":6,"x":610,"y":0.452},{"p":"e","c":6,"x":620,"y":0.444},{"p":"e","c":6,"x":632,"y":0.494},{"p":"e","c":6,"x":645,"y":0.616},{"p":"e","c":6,"x":655,"y":0.731},{"p":"e","c":6,"x":664,"y":0.8},{"p":"e","c":6,"x":672,"y":0.724},{"p":"e","c":6,"x":680,"y":0.54},{"p":"e","c":6,"x":688,"y":0.242},{"p":"e","c":6,"x":697,"y":0.086},{"p":"e","c":6,"x":712,"y":0.026},{"p":"e","c":6,"x":750,"y":0.01},
{"p":"e","c":7,"x":500,"y":0.035},{"p":"e","c":7,"x":530,"y":0.042},{"p":"e","c":7,"x":555,"y":0.07},{"p":"e","c":7,"x":575,"y":0.141},{"p":"e","c":7,"x":590,"y":0.296},{"p":"e","c":7,"x":600,"y":0.402},{"p":"e","c":7,"x":610,"y":0.419},{"p":"e","c":7,"x":620,"y":0.412},{"p":"e","c":7,"x":632,"y":0.458},{"p":"e","c":7,"x":645,"y":0.571},{"p":"e","c":7,"x":655,"y":0.677},{"p":"e","c":7,"x":664,"y":0.74},{"p":"e","c":7,"x":672,"y":0.67},{"p":"e","c":7,"x":680,"y":0.5},{"p":"e","c":7,"x":688,"y":0.225},{"p":"e","c":7,"x":697,"y":0.081},{"p":"e","c":7,"x":712,"y":0.026},{"p":"e","c":7,"x":750,"y":0.01},
{"p":"e","c":8,"x":500,"y":0.03},{"p":"e","c":8,"x":530,"y":0.037},{"p":"e","c":8,"x":555,"y":0.063},{"p":"e","c":8,"x":575,"y":0.129},{"p":"e","c":8,"x":590,"y":0.274},{"p":"e","c":8,"x":600,"y":0.373},{"p":"e","c":8,"x":610,"y":0.39},{"p":"e","c":8,"x":620,"y":0.383},{"p":"e","c":8,"x":632,"y":0.426},{"p":"e","c":8,"x":645,"y":0.532},{"p":"e","c":8,"x":655,"y":0.631},{"p":"e","c":8,"x":664,"y":0.69},{"p":"e","c":8,"x":672,"y":0.624},{"p":"e","c":8,"x":680,"y":0.466},{"p":"e","c":8,"x":688,"y":0.208},{"p":"e","c":8,"x":697,"y":0.074},{"p":"e","c":8,"x":712,"y":0.025},{"p":"e","c":8,"x":750,"y":0.01},
{"p":"e","c":9,"x":500,"y":0.03},{"p":"e","c":9,"x":530,"y":0.036},{"p":"e","c":9,"x":555,"y":0.06},{"p":"e","c":9,"x":575,"y":0.12},{"p":"e","c":9,"x":590,"y":0.252},{"p":"e","c":9,"x":600,"y":0.342},{"p":"e","c":9,"x":610,"y":0.357},{"p":"e","c":9,"x":620,"y":0.351},{"p":"e","c":9,"x":632,"y":0.39},{"p":"e","c":9,"x":645,"y":0.486},{"p":"e","c":9,"x":655,"y":0.576},{"p":"e","c":9,"x":664,"y":0.63},{"p":"e","c":9,"x":672,"y":0.57},{"p":"e","c":9,"x":680,"y":0.426},{"p":"e","c":9,"x":688,"y":0.192},{"p":"e","c":9,"x":697,"y":0.069},{"p":"e","c":9,"x":712,"y":0.024},{"p":"e","c":9,"x":750,"y":0.01},
{"p":"e","c":10,"x":500,"y":0.025},{"p":"e","c":10,"x":530,"y":0.031},{"p":"e","c":10,"x":555,"y":0.053},{"p":"e","c":10,"x":575,"y":0.108},{"p":"e","c":10,"x":590,"y":0.23},{"p":"e","c":10,"x":600,"y":0.314},{"p":"e","c":10,"x":610,"y":0.327},{"p":"e","c":10,"x":620,"y":0.322},{"p":"e","c":10,"x":632,"y":0.358},{"p":"e","c":10,"x":645,"y":0.447},{"p":"e","c":10,"x":655,"y":0.53},{"p":"e","c":10,"x":664,"y":0.58},{"p":"e","c":10,"x":672,"y":0.525},{"p":"e","c":10,"x":680,"y":0.391},{"p":"e","c":10,"x":688,"y":0.175},{"p":"e","c":10,"x":697,"y":0.062},{"p":"e","c":10,"x":712,"y":0.023},{"p":"e","c":10,"x":750,"y":0.01},
{"p":"e","c":11,"x":500,"y":0.025},{"p":"e","c":11,"x":530,"y":0.03},{"p":"e","c":11,"x":555,"y":0.051},{"p":"e","c":11,"x":575,"y":0.103},{"p":"e","c":11,"x":590,"y":0.217},{"p":"e","c":11,"x":600,"y":0.295},{"p":"e","c":11,"x":610,"y":0.308},{"p":"e","c":11,"x":620,"y":0.303},{"p":"e","c":11,"x":632,"y":0.337},{"p":"e","c":11,"x":645,"y":0.42},{"p":"e","c":11,"x":655,"y":0.498},{"p":"e","c":11,"x":664,"y":0.545},{"p":"e","c":11,"x":672,"y":0.493},{"p":"e","c":11,"x":680,"y":0.368},{"p":"e","c":11,"x":688,"y":0.165},{"p":"e","c":11,"x":697,"y":0.06},{"p":"e","c":11,"x":712,"y":0.023},{"p":"e","c":11,"x":750,"y":0.01},
{"p":"e","c":12,"x":500,"y":0.02},{"p":"e","c":12,"x":530,"y":0.025},{"p":"e","c":12,"x":555,"y":0.045},{"p":"e","c":12,"x":575,"y":0.094},{"p":"e","c":12,"x":590,"y":0.201},{"p":"e","c":12,"x":600,"y":0.275},{"p":"e","c":12,"x":610,"y":0.287},{"p":"e","c":12,"x":620,"y":0.282},{"p":"e","c":12,"x":632,"y":0.314},{"p":"e","c":12,"x":645,"y":0.392},{"p":"e","c":12,"x":655,"y":0.466},{"p":"e","c":12,"x":664,"y":0.51},{"p":"e","c":12,"x":672,"y":0.461},{"p":"e","c":12,"x":680,"y":0.343},{"p":"e","c":12,"x":688,"y":0.152},{"p":"e","c":12,"x":697,"y":0.053},{"p":"e","c":12,"x":712,"y":0.022},{"p":"e","c":12,"x":750,"y":0.01},
{"p":"e","c":13,"x":500,"y":0.02},{"p":"e","c":13,"x":530,"y":0.025},{"p":"e","c":13,"x":555,"y":0.043},{"p":"e","c":13,"x":575,"y":0.088},{"p":"e","c":13,"x":590,"y":0.188},{"p":"e","c":13,"x":600,"y":0.257},{"p":"e","c":13,"x":610,"y":0.268},{"p":"e","c":13,"x":620,"y":0.263},{"p":"e","c":13,"x":632,"y":0.293},{"p":"e","c":13,"x":645,"y":0.366},{"p":"e","c":13,"x":655,"y":0.434},{"p":"e","c":13,"x":664,"y":0.475},{"p":"e","c":13,"x":672,"y":0.43},{"p":"e","c":13,"x":680,"y":0.32},{"p":"e","c":13,"x":688,"y":0.143},{"p":"e","c":13,"x":697,"y":0.05},{"p":"e","c":13,"x":712,"y":0.022},{"p":"e","c":13,"x":750,"y":0.01},
{"p":"e","c":14,"x":500,"y":0.02},{"p":"e","c":14,"x":530,"y":0.024},{"p":"e","c":14,"x":555,"y":0.041},{"p":"e","c":14,"x":575,"y":0.083},{"p":"e","c":14,"x":590,"y":0.175},{"p":"e","c":14,"x":600,"y":0.238},{"p":"e","c":14,"x":610,"y":0.249},{"p":"e","c":14,"x":620,"y":0.245},{"p":"e","c":14,"x":632,"y":0.272},{"p":"e","c":14,"x":645,"y":0.339},{"p":"e","c":14,"x":655,"y":0.402},{"p":"e","c":14,"x":664,"y":0.44},{"p":"e","c":14,"x":672,"y":0.398},{"p":"e","c":14,"x":680,"y":0.297},{"p":"e","c":14,"x":688,"y":0.133},{"p":"e","c":14,"x":697,"y":0.048},{"p":"e","c":14,"x":712,"y":0.021},{"p":"e","c":14,"x":750,"y":0.01},
{"p":"f","c":0,"x":500,"y":0.066},{"p":"f","c":0,"x":530,"y":0.08},{"p":"f","c":0,"x":555,"y":0.135},{"p":"f","c":0,"x":575,"y":0.26},{"p":"f","c":0,"x":590,"y":0.56},{"p":"f","c":0,"x":600,"y":0.71},{"p":"f","c":0,"x":610,"y":0.77},{"p":"f","c":0,"x":620,"y":0.765},{"p":"f","c":0,"x":632,"y":0.82},{"p":"f","c":0,"x":645,"y":1.04},{"p":"f","c":0,"x":655,"y":1.22},{"p":"f","c":0,"x":664,"y":1.33},{"p":"f","c":0,"x":672,"y":1.2},{"p":"f","c":0,"x":680,"y":0.86},{"p":"f","c":0,"x":688,"y":0.33},{"p":"f","c":0,"x":697,"y":0.1},{"p":"f","c":0,"x":712,"y":0.025},{"p":"f","c":0,"x":750,"y":0},
{"p":"f","c":1,"x":500,"y":0.045},{"p":"f","c":1,"x":530,"y":0.055},{"p":"f","c":1,"x":555,"y":0.095},{"p":"f","c":1,"x":575,"y":0.195},{"p":"f","c":1,"x":590,"y":0.415},{"p":"f","c":1,"x":600,"y":0.565},{"p":"f","c":1,"x":610,"y":0.59},{"p":"f","c":1,"x":620,"y":0.58},{"p":"f","c":1,"x":632,"y":0.645},{"p":"f","c":1,"x":645,"y":0.805},{"p":"f","c":1,"x":655,"y":0.955},{"p":"f","c":1,"x":664,"y":1.045},{"p":"f","c":1,"x":672,"y":0.945},{"p":"f","c":1,"x":680,"y":0.705},{"p":"f","c":1,"x":688,"y":0.315},{"p":"f","c":1,"x":697,"y":0.112},{"p":"f","c":1,"x":712,"y":0.03},{"p":"f","c":1,"x":750,"y":0.01},
{"p":"f","c":2,"x":500,"y":0.04},{"p":"f","c":2,"x":530,"y":0.049},{"p":"f","c":2,"x":555,"y":0.086},{"p":"f","c":2,"x":575,"y":0.179},{"p":"f","c":2,"x":590,"y":0.382},{"p":"f","c":2,"x":600,"y":0.521},{"p":"f","c":2,"x":610,"y":0.544},{"p":"f","c":2,"x":620,"y":0.535},{"p":"f","c":2,"x":632,"y":0.595},{"p":"f","c":2,"x":645,"y":0.743},{"p":"f","c":2,"x":655,"y":0.882},{"p":"f","c":2,"x":664,"y":0.965},{"p":"f","c":2,"x":672,"y":0.873},{"p":"f","c":2,"x":680,"y":0.651},{"p":"f","c":2,"x":688,"y":0.29},{"p":"f","c":2,"x":697,"y":0.102},{"p":"f","c":2,"x":712,"y":0.029},{"p":"f","c":2,"x":750,"y":0.01},
{"p":"f","c":3,"x":500,"y":0.04},{"p":"f","c":3,"x":530,"y":0.049},{"p":"f","c":3,"x":555,"y":0.085},{"p":"f","c":3,"x":575,"y":0.176},{"p":"f","c":3,"x":590,"y":0.375},{"p":"f","c":3,"x":600,"y":0.511},{"p":"f","c":3,"x":610,"y":0.533},{"p":"f","c":3,"x":620,"y":0.524},{"p":"f","c":3,"x":632,"y":0.583},{"p":"f","c":3,"x":645,"y":0.728},{"p":"f","c":3,"x":655,"y":0.864},{"p":"f","c":3,"x":664,"y":0.945},{"p":"f","c":3,"x":672,"y":0.855},{"p":"f","c":3,"x":680,"y":0.637},{"p":"f","c":3,"x":688,"y":0.284},{"p":"f","c":3,"x":697,"y":0.1},{"p":"f","c":3,"x":712,"y":0.029},{"p":"f","c":3,"x":750,"y":0.01},
{"p":"f","c":4,"x":500,"y":0.04},{"p":"f","c":4,"x":530,"y":0.049},{"p":"f","c":4,"x":555,"y":0.084},{"p":"f","c":4,"x":575,"y":0.171},{"p":"f","c":4,"x":590,"y":0.362},{"p":"f","c":4,"x":600,"y":0.492},{"p":"f","c":4,"x":610,"y":0.514},{"p":"f","c":4,"x":620,"y":0.505},{"p":"f","c":4,"x":632,"y":0.562},{"p":"f","c":4,"x":645,"y":0.701},{"p":"f","c":4,"x":655,"y":0.832},{"p":"f","c":4,"x":664,"y":0.91},{"p":"f","c":4,"x":672,"y":0.823},{"p":"f","c":4,"x":680,"y":0.614},{"p":"f","c":4,"x":688,"y":0.275},{"p":"f","c":4,"x":697,"y":0.098},{"p":"f","c":4,"x":712,"y":0.028},{"p":"f","c":4,"x":750,"y":0.01},
{"p":"f","c":5,"x":500,"y":0.035},{"p":"f","c":5,"x":530,"y":0.043},{"p":"f","c":5,"x":555,"y":0.076},{"p":"f","c":5,"x":575,"y":0.159},{"p":"f","c":5,"x":590,"y":0.34},{"p":"f","c":5,"x":600,"y":0.464},{"p":"f","c":5,"x":610,"y":0.485},{"p":"f","c":5,"x":620,"y":0.476},{"p":"f","c":5,"x":632,"y":0.53},{"p":"f","c":5,"x":645,"y":0.662},{"p":"f","c":5,"x":655,"y":0.786},{"p":"f","c":5,"x":664,"y":0.86},{"p":"f","c":5,"x":672,"y":0.778},{"p":"f","c":5,"x":680,"y":0.58},{"p":"f","c":5,"x":688,"y":0.258},{"p":"f","c":5,"x":697,"y":0.091},{"p":"f","c":5,"x":712,"y":0.027},{"p":"f","c":5,"x":750,"y":0.01},
{"p":"f","c":6,"x":500,"y":0.035},{"p":"f","c":6,"x":530,"y":0.043},{"p":"f","c":6,"x":555,"y":0.075},{"p":"f","c":6,"x":575,"y":0.154},{"p":"f","c":6,"x":590,"y":0.329},{"p":"f","c":6,"x":600,"y":0.448},{"p":"f","c":6,"x":610,"y":0.468},{"p":"f","c":6,"x":620,"y":0.46},{"p":"f","c":6,"x":632,"y":0.512},{"p":"f","c":6,"x":645,"y":0.639},{"p":"f","c":6,"x":655,"y":0.758},{"p":"f","c":6,"x":664,"y":0.83},{"p":"f","c":6,"x":672,"y":0.751},{"p":"f","c":6,"x":680,"y":0.56},{"p":"f","c":6,"x":688,"y":0.25},{"p":"f","c":6,"x":697,"y":0.089},{"p":"f","c":6,"x":712,"y":0.027},{"p":"f","c":6,"x":750,"y":0.01},
{"p":"f","c":7,"x":500,"y":0.035},{"p":"f","c":7,"x":530,"y":0.043},{"p":"f","c":7,"x":555,"y":0.073},{"p":"f","c":7,"x":575,"y":0.15},{"p":"f","c":7,"x":590,"y":0.318},{"p":"f","c":7,"x":600,"y":0.433},{"p":"f","c":7,"x":610,"y":0.452},{"p":"f","c":7,"x":620,"y":0.444},{"p":"f","c":7,"x":632,"y":0.494},{"p":"f","c":7,"x":645,"y":0.616},{"p":"f","c":7,"x":655,"y":0.731},{"p":"f","c":7,"x":664,"y":0.8},{"p":"f","c":7,"x":672,"y":0.724},{"p":"f","c":7,"x":680,"y":0.54},{"p":"f","c":7,"x":688,"y":0.242},{"p":"f","c":7,"x":697,"y":0.086},{"p":"f","c":7,"x":712,"y":0.026},{"p":"f","c":7,"x":750,"y":0.01},
{"p":"f","c":8,"x":500,"y":0.03},{"p":"f","c":8,"x":530,"y":0.037},{"p":"f","c":8,"x":555,"y":0.065},{"p":"f","c":8,"x":575,"y":0.135},{"p":"f","c":8,"x":590,"y":0.289},{"p":"f","c":8,"x":600,"y":0.394},{"p":"f","c":8,"x":610,"y":0.412},{"p":"f","c":8,"x":620,"y":0.405},{"p":"f","c":8,"x":632,"y":0.45},{"p":"f","c":8,"x":645,"y":0.562},{"p":"f","c":8,"x":655,"y":0.667},{"p":"f","c":8,"x":664,"y":0.73},{"p":"f","c":8,"x":672,"y":0.66},{"p":"f","c":8,"x":680,"y":0.492},{"p":"f","c":8,"x":688,"y":0.219},{"p":"f","c":8,"x":697,"y":0.077},{"p":"f","c":8,"x":712,"y":0.026},{"p":"f","c":8,"x":750,"y":0.01},
{"p":"f","c":9,"x":500,"y":0.03},{"p":"f","c":9,"x":530,"y":0.037},{"p":"f","c":9,"x":555,"y":0.064},{"p":"f","c":9,"x":575,"y":0.131},{"p":"f","c":9,"x":590,"y":0.278},{"p":"f","c":9,"x":600,"y":0.378},{"p":"f","c":9,"x":610,"y":0.395},{"p":"f","c":9,"x":620,"y":0.388},{"p":"f","c":9,"x":632,"y":0.432},{"p":"f","c":9,"x":645,"y":0.539},{"p":"f","c":9,"x":655,"y":0.64},{"p":"f","c":9,"x":664,"y":0.7},{"p":"f","c":9,"x":672,"y":0.633},{"p":"f","c":9,"x":680,"y":0.472},{"p":"f","c":9,"x":688,"y":0.211},{"p":"f","c":9,"x":697,"y":0.075},{"p":"f","c":9,"x":712,"y":0.025},{"p":"f","c":9,"x":750,"y":0.01},
{"p":"f","c":10,"x":500,"y":0.03},{"p":"f","c":10,"x":530,"y":0.036},{"p":"f","c":10,"x":555,"y":0.061},{"p":"f","c":10,"x":575,"y":0.122},{"p":"f","c":10,"x":590,"y":0.256},{"p":"f","c":10,"x":600,"y":0.347},{"p":"f","c":10,"x":610,"y":0.362},{"p":"f","c":10,"x":620,"y":0.356},{"p":"f","c":10,"x":632,"y":0.396},{"p":"f","c":10,"x":645,"y":0.494},{"p":"f","c":10,"x":655,"y":0.585},{"p":"f","c":10,"x":664,"y":0.64},{"p":"f","c":10,"x":672,"y":0.579},{"p":"f","c":10,"x":680,"y":0.433},{"p":"f","c":10,"x":688,"y":0.195},{"p":"f","c":10,"x":697,"y":0.07},{"p":"f","c":10,"x":712,"y":0.024},{"p":"f","c":10,"x":750,"y":0.01},
{"p":"f","c":11,"x":500,"y":0.025},{"p":"f","c":11,"x":530,"y":0.031},{"p":"f","c":11,"x":555,"y":0.054},{"p":"f","c":11,"x":575,"y":0.111},{"p":"f","c":11,"x":590,"y":0.238},{"p":"f","c":11,"x":600,"y":0.324},{"p":"f","c":11,"x":610,"y":0.338},{"p":"f","c":11,"x":620,"y":0.333},{"p":"f","c":11,"x":632,"y":0.37},{"p":"f","c":11,"x":645,"y":0.462},{"p":"f","c":11,"x":655,"y":0.548},{"p":"f","c":11,"x":664,"y":0.6},{"p":"f","c":11,"x":672,"y":0.543},{"p":"f","c":11,"x":680,"y":0.405},{"p":"f","c":11,"x":688,"y":0.18},{"p":"f","c":11,"x":697,"y":0.064},{"p":"f","c":11,"x":712,"y":0.024},{"p":"f","c":11,"x":750,"y":0.01},
{"p":"f","c":14,"x":500,"y":0.025},{"p":"f","c":14,"x":530,"y":0.03},{"p":"f","c":14,"x":555,"y":0.052},{"p":"f","c":14,"x":575,"y":0.105},{"p":"f","c":14,"x":590,"y":0.223},{"p":"f","c":14,"x":600,"y":0.303},{"p":"f","c":14,"x":610,"y":0.317},{"p":"f","c":14,"x":620,"y":0.311},{"p":"f","c":14,"x":632,"y":0.346},{"p":"f","c":14,"x":645,"y":0.432},{"p":"f","c":14,"x":655,"y":0.512},{"p":"f","c":14,"x":664,"y":0.56},{"p":"f","c":14,"x":672,"y":0.507},{"p":"f","c":14,"x":680,"y":0.378},{"p":"f","c":14,"x":688,"y":0.169},{"p":"f","c":14,"x":697,"y":0.061},{"p":"f","c":14,"x":712,"y":0.023},{"p":"f","c":14,"x":750,"y":0.01}
]},
"spacing":15,
"vconcat":[
{"bounds":"flush","spacing":48,"hconcat":[
{"width":218,"height":176,"transform":[{"filter":"datum.p=='a'"}],"layer":[
{"transform":[{"filter":"isValid(datum.y)"}],"mark":{"type":"line","strokeWidth":1.2,"interpolate":"monotone","clip":true},"encoding":{"x":{"field":"x","type":"quantitative","scale":{"domain":[500,750],"nice":false},"axis":{"title":"Wavelength (nm)","values":[500,550,600,650,700,750],"tickCount":10}},"y":{"field":"y","type":"quantitative","scale":{"domain":[0,1.4],"nice":false},"axis":{"title":"Absorbance (a.u)","values":[0,0.2,0.4,0.6,0.8,1.0,1.2,1.4],"tickCount":10,"labelExpr":"replace(format(datum.value,'.1f'),'.',',')"}},"color":{"field":"c","type":"nominal","legend":null,"scale":{"domain":[0,1,2,3,4,5,6,7,8,9,10,11,12,13,14],"range":["#000000","#ff0000","#0000ff","#00e000","#ff00ff","#1fbfd0","#999900","#8c7f9f","#b07850","#ff8000","#ff80c0","#6a9ce0","#4f7f2f","#d4a017","#00cccc"]}}}},
{"transform":[{"filter":"isValid(datum.lab)"}],"mark":{"type":"text","align":"left","baseline":"middle","fontWeight":"bold","fontSize":11,"font":"Liberation Sans","color":"black"},"encoding":{"x":{"datum":509,"type":"quantitative"},"y":{"datum":1.265,"type":"quantitative"},"text":{"field":"lab"}}}]},
{"width":218,"height":176,"transform":[{"filter":"datum.p=='b'"}],"layer":[
{"transform":[{"filter":"isValid(datum.y)"}],"mark":{"type":"line","strokeWidth":1.2,"interpolate":"monotone","clip":true},"encoding":{"x":{"field":"x","type":"quantitative","scale":{"domain":[500,750],"nice":false},"axis":{"title":"Wavelength (nm)","values":[500,550,600,650,700,750],"tickCount":10}},"y":{"field":"y","type":"quantitative","scale":{"domain":[0,1.4],"nice":false},"axis":{"title":"Absorbance (a.u)","values":[0,0.2,0.4,0.6,0.8,1.0,1.2,1.4],"tickCount":10,"labelExpr":"replace(format(datum.value,'.1f'),'.',',')"}},"color":{"field":"c","type":"nominal","legend":null,"scale":{"domain":[0,1,2,3,4,5,6,7,8,9,10,11,12,13,14],"range":["#000000","#ff0000","#0000ff","#00e000","#ff00ff","#1fbfd0","#999900","#8c7f9f","#b07850","#ff8000","#ff80c0","#6a9ce0","#4f7f2f","#d4a017","#00cccc"]}}}},
{"transform":[{"filter":"isValid(datum.lab)"}],"mark":{"type":"text","align":"left","baseline":"middle","fontWeight":"bold","fontSize":11,"font":"Liberation Sans","color":"black"},"encoding":{"x":{"datum":509,"type":"quantitative"},"y":{"datum":1.265,"type":"quantitative"},"text":{"field":"lab"}}}]},
{"width":218,"height":176,"transform":[{"filter":"datum.p=='c'"}],"layer":[
{"transform":[{"filter":"isValid(datum.y)"}],"mark":{"type":"line","strokeWidth":1.2,"interpolate":"monotone","clip":true},"encoding":{"x":{"field":"x","type":"quantitative","scale":{"domain":[500,750],"nice":false},"axis":{"title":"Wavelength (nm)","values":[500,550,600,650,700,750],"tickCount":10}},"y":{"field":"y","type":"quantitative","scale":{"domain":[0,1.4],"nice":false},"axis":{"title":"Absorbance (a.u)","values":[0,0.2,0.4,0.6,0.8,1.0,1.2,1.4],"tickCount":10,"labelExpr":"replace(format(datum.value,'.1f'),'.',',')"}},"color":{"field":"c","type":"nominal","legend":null,"scale":{"domain":[0,1,2,3,4,5,6,7,8,9,10,11,12,13,14],"range":["#000000","#ff0000","#0000ff","#00e000","#ff00ff","#1fbfd0","#999900","#8c7f9f","#b07850","#ff8000","#ff80c0","#6a9ce0","#4f7f2f","#d4a017","#00cccc"]}}}},
{"transform":[{"filter":"isValid(datum.lab)"}],"mark":{"type":"text","align":"left","baseline":"middle","fontWeight":"bold","fontSize":11,"font":"Liberation Sans","color":"black"},"encoding":{"x":{"datum":509,"type":"quantitative"},"y":{"datum":1.265,"type":"quantitative"},"text":{"field":"lab"}}}]}
]},
{"bounds":"flush","spacing":48,"hconcat":[
{"width":218,"height":175,"transform":[{"filter":"datum.p=='d'"}],"layer":[
{"transform":[{"filter":"isValid(datum.y)"}],"mark":{"type":"line","strokeWidth":1.2,"interpolate":"monotone","clip":true},"encoding":{"x":{"field":"x","type":"quantitative","scale":{"domain":[500,750],"nice":false},"axis":{"title":"Wavelength (nm)","values":[500,550,600,650,700,750],"tickCount":10}},"y":{"field":"y","type":"quantitative","scale":{"domain":[0,1.4],"nice":false},"axis":{"title":"Absorbance (a.u)","values":[0,0.2,0.4,0.6,0.8,1.0,1.2,1.4],"tickCount":10,"labelExpr":"replace(format(datum.value,'.1f'),'.',',')"}},"color":{"field":"c","type":"nominal","legend":null,"scale":{"domain":[0,1,2,3,4,5,6,7,8,9,10,11,12,13,14],"range":["#000000","#ff0000","#0000ff","#00e000","#ff00ff","#1fbfd0","#999900","#8c7f9f","#b07850","#ff8000","#ff80c0","#6a9ce0","#4f7f2f","#d4a017","#00cccc"]}}}},
{"transform":[{"filter":"isValid(datum.lab)"}],"mark":{"type":"text","align":"left","baseline":"middle","fontWeight":"bold","fontSize":11,"font":"Liberation Sans","color":"black"},"encoding":{"x":{"datum":509,"type":"quantitative"},"y":{"datum":1.265,"type":"quantitative"},"text":{"field":"lab"}}}]},
{"width":218,"height":175,"transform":[{"filter":"datum.p=='e'"}],"layer":[
{"transform":[{"filter":"isValid(datum.y)"}],"mark":{"type":"line","strokeWidth":1.2,"interpolate":"monotone","clip":true},"encoding":{"x":{"field":"x","type":"quantitative","scale":{"domain":[500,750],"nice":false},"axis":{"title":"Wavelength (nm)","values":[500,550,600,650,700,750],"tickCount":10}},"y":{"field":"y","type":"quantitative","scale":{"domain":[0,1.4],"nice":false},"axis":{"title":"Absorbance (a.u)","values":[0,0.2,0.4,0.6,0.8,1.0,1.2,1.4],"tickCount":10,"labelExpr":"replace(format(datum.value,'.1f'),'.',',')"}},"color":{"field":"c","type":"nominal","legend":null,"scale":{"domain":[0,1,2,3,4,5,6,7,8,9,10,11,12,13,14],"range":["#000000","#ff0000","#0000ff","#00e000","#ff00ff","#1fbfd0","#999900","#8c7f9f","#b07850","#ff8000","#ff80c0","#6a9ce0","#4f7f2f","#d4a017","#00cccc"]}}}},
{"transform":[{"filter":"isValid(datum.lab)"}],"mark":{"type":"text","align":"left","baseline":"middle","fontWeight":"bold","fontSize":11,"font":"Liberation Sans","color":"black"},"encoding":{"x":{"datum":509,"type":"quantitative"},"y":{"datum":1.265,"type":"quantitative"},"text":{"field":"lab"}}}]},
{"width":218,"height":175,"transform":[{"filter":"datum.p=='f'"}],"layer":[
{"transform":[{"filter":"isValid(datum.y)"}],"mark":{"type":"line","strokeWidth":1.2,"interpolate":"monotone","clip":true},"encoding":{"x":{"field":"x","type":"quantitative","scale":{"domain":[500,750],"nice":false},"axis":{"title":"Wavelength (nm)","values":[500,550,600,650,700,750],"tickCount":10}},"y":{"field":"y","type":"quantitative","scale":{"domain":[0,1.4],"nice":false},"axis":{"title":"Absorbance (a.u)","values":[0,0.2,0.4,0.6,0.8,1.0,1.2,1.4],"tickCount":10,"labelExpr":"replace(format(datum.value,'.1f'),'.',',')"}},"color":{"field":"c","type":"nominal","legend":null,"scale":{"domain":[0,1,2,3,4,5,6,7,8,9,10,11,12,13,14],"range":["#000000","#ff0000","#0000ff","#00e000","#ff00ff","#1fbfd0","#999900","#8c7f9f","#b07850","#ff8000","#ff80c0","#6a9ce0","#4f7f2f","#d4a017","#00cccc"]}}}},
{"transform":[{"filter":"isValid(datum.lab)"}],"mark":{"type":"text","align":"left","baseline":"middle","fontWeight":"bold","fontSize":11,"font":"Liberation Sans","color":"black"},"encoding":{"x":{"datum":509,"type":"quantitative"},"y":{"datum":1.265,"type":"quantitative"},"text":{"field":"lab"}}}]}
]}
],
"config":{
"view":{"stroke":"black","strokeWidth":1},
"axis":{"grid":false,"domainColor":"black","tickColor":"black","tickSize":3,"labelFont":"Liberation Sans","labelFontSize":11,"labelColor":"black","labelPadding":2,"labelOverlap":false,"titleFont":"Liberation Sans","titleFontSize":12,"titleFontWeight":"bold","titleColor":"black"},
"axisX":{"titlePadding":4,"labelFlush":false},
"axisY":{"titlePadding":4}
}
}
